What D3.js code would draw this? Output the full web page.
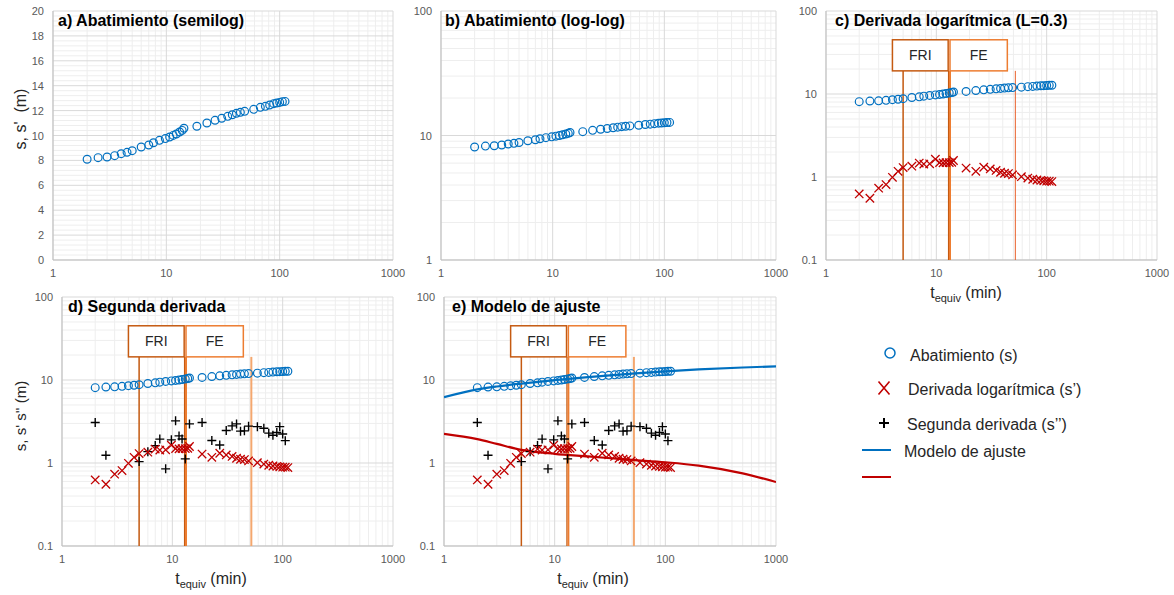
<!DOCTYPE html>
<html>
<head>
<meta charset="utf-8">
<script src="https://cdn.jsdelivr.net/npm/d3@7/dist/d3.min.js"></script>
<style>
  html, body { margin: 0; padding: 0; background: #fff; }
  svg { display: block; font-family: "Liberation Sans", Arial, sans-serif; }
</style>
</head>
<body>
<svg id="chart" width="1174" height="595"></svg>
<script>
// Equivalent time (min)
const tEquiv = [2, 2.5, 3, 3.5, 4, 4.5, 5, 6, 7, 7.7, 8.7, 9.8, 10.7, 11.5, 12.25, 13.1, 13.8, 14.3,
  18.6, 22.8, 26.9, 30.8, 34.8, 38.2, 41.5, 45, 49.1, 59, 67.5, 74.8, 81.6, 88.5, 94.1, 100, 105.6, 111.5];
// Drawdown s (m)
const drawdown = [8.09, 8.22, 8.27, 8.38, 8.54, 8.65, 8.78, 9.08, 9.24, 9.42, 9.61, 9.75, 9.88, 10.01, 10.12, 10.28, 10.41, 10.58,
  10.74, 11.0, 11.22, 11.38, 11.54, 11.67, 11.78, 11.86, 11.94, 12.1, 12.26, 12.34, 12.45, 12.56, 12.61, 12.66, 12.72, 12.74];
// Logarithmic derivative s'
const logDeriv = [0.625, 0.555, 0.733, 0.81, 0.99, 1.17, 1.30, 1.35, 1.47, 1.43, 1.44, 1.64, 1.49, 1.48, 1.49, 1.49, 1.50, 1.58,
  1.28, 1.17, 1.31, 1.25, 1.20, 1.14, 1.11, 1.10, 1.06, 1.01, 0.97, 0.94, 0.92, 0.91, 0.90, 0.89, 0.89, 0.88];
// Second derivative s'' (null where not positive / not computed)
const secondDeriv = [3.07, 1.24, null, null, null, null, 1.04, 1.37, 1.62, 1.94, 0.85, 1.90, 3.22, 2.12, 1.95, 1.12, null, 2.96,
  3.07, 1.87, 1.65, 2.46, 2.80, 2.96, 2.42, 2.44, 2.78, 2.74, 2.62, 2.29, 2.16, 2.33, 2.74, 2.24, 1.86, null];

// Fitted model
const modelT = [1, 2, 3, 5, 10, 20, 50, 100, 200, 500, 1000];
const modelS = [6.2, 7.7, 8.35, 9.05, 9.95, 10.85, 11.95, 12.7, 13.4, 14.15, 14.6];
const modelDeriv = [2.24, 1.94, 1.70, 1.44, 1.29, 1.20, 1.09, 1.02, 0.93, 0.75, 0.59];

// Flow regime boxes and limits
const regimes = [
  { label: "FRI", t0: 4, t1: 12.8, color: "#C55A11" },
  { label: "FE", t0: 13.3, t1: 44, color: "#ED7D31" }
];
const boxRange = [19, 45];
const limits = [
  { t: 5, color: "#C55A11", w: 1.5 },
  { t: 12.9, color: "#C55A11", w: 1.2 },
  { t: 13.3, color: "#ED7D31", w: 2 }
];
const lateLimit = 52;

const xTicks = [1, 10, 100, 1000];
const logTicks3 = [0.1, 1, 10, 100];
const logTicks2 = [1, 10, 100];
const linTicks = [0, 2, 4, 6, 8, 10, 12, 14, 16, 18, 20];

const BLUE = "#0070C0", RED = "#C00000";
const svg = d3.select("#chart");

const panels = [
  { id: "a", title: "a) Abatimiento (semilog)", x0: 53, x1: 393, y0: 11, y1: 260, type: "lin", dom: [0, 20], ticks: linTicks,
    series: ["s"], tx: 5 },
  { id: "b", title: "b) Abatimiento (log-log)", x0: 441, x1: 776, y0: 11, y1: 260, type: "log", dom: [1, 100], ticks: logTicks2,
    series: ["s"], tx: 4 },
  { id: "c", title: "c) Derivada logarítmica (L=0.3)", x0: 826, x1: 1157, y0: 11, y1: 260, type: "log", dom: [0.1, 100], ticks: logTicks3,
    series: ["s", "d1"], regimes: true, lateColor: "#E8602A", lateW: 1, xTitle: 966, tx: 9 },
  { id: "d", title: "d) Segunda derivada", x0: 62, x1: 393, y0: 297, y1: 546, type: "log", dom: [0.1, 100], ticks: logTicks3,
    series: ["s", "d1", "d2"], regimes: true, lateColor: "#F4A76E", lateW: 2, xTitle: 211, tx: 6 },
  { id: "e", title: "e) Modelo de ajuste", x0: 444, x1: 776, y0: 297, y1: 546, type: "log", dom: [0.1, 100], ticks: logTicks3,
    series: ["model", "s", "d1", "d2"], regimes: true, lateColor: "#F4A76E", lateW: 2, xTitle: 593, tx: 8 }
];

function minorLog(lo, hi) {
  const out = [];
  for (let p = Math.round(Math.log10(lo)); p < Math.round(Math.log10(hi)); p++) {
    for (let k = 2; k <= 9; k++) out.push(k * Math.pow(10, p));
  }
  return out;
}

const fmt = v => (v < 1 ? String(v) : d3.format("d")(v));

panels.forEach(p => {
  const g = svg.append("g");
  const x = d3.scaleLog().domain([1, 1000]).range([p.x0, p.x1]);
  const y = (p.type === "lin" ? d3.scaleLinear() : d3.scaleLog()).domain(p.dom).range([p.y1, p.y0]);

  const clipId = "clip-" + p.id;
  g.append("clipPath").attr("id", clipId).append("rect")
    .attr("x", p.x0).attr("y", p.y0).attr("width", p.x1 - p.x0).attr("height", p.y1 - p.y0);

  // minor grid
  const xMinor = minorLog(1, 1000);
  const yMinor = p.type === "lin" ? d3.range(0, 20, 0.4).filter(v => Math.abs(v / 2 - Math.round(v / 2)) > 1e-6) : minorLog(p.dom[0], p.dom[1]);
  g.selectAll(null).data(xMinor).join("line")
    .attr("x1", d => x(d)).attr("x2", d => x(d)).attr("y1", p.y0).attr("y2", p.y1)
    .attr("stroke", "#EEEEEE").attr("stroke-width", 1);
  g.selectAll(null).data(yMinor).join("line")
    .attr("y1", d => y(d)).attr("y2", d => y(d)).attr("x1", p.x0).attr("x2", p.x1)
    .attr("stroke", "#EEEEEE").attr("stroke-width", 1);
  // major grid
  g.selectAll(null).data(xTicks).join("line")
    .attr("x1", d => x(d)).attr("x2", d => x(d)).attr("y1", p.y0).attr("y2", p.y1)
    .attr("stroke", "#D9D9D9").attr("stroke-width", 1);
  g.selectAll(null).data(p.ticks).join("line")
    .attr("y1", d => y(d)).attr("y2", d => y(d)).attr("x1", p.x0).attr("x2", p.x1)
    .attr("stroke", "#D9D9D9").attr("stroke-width", 1);
  // axis lines
  g.append("line").attr("x1", p.x0).attr("x2", p.x0).attr("y1", p.y0).attr("y2", p.y1).attr("stroke", "#BFBFBF");
  g.append("line").attr("x1", p.x0).attr("x2", p.x1).attr("y1", p.y1).attr("y2", p.y1).attr("stroke", "#BFBFBF");

  // tick labels
  g.selectAll(null).data(xTicks).join("text")
    .attr("x", d => x(d)).attr("y", p.y1 + 17).attr("text-anchor", "middle")
    .attr("font-size", 11).attr("fill", "#595959").text(d => d);
  g.selectAll(null).data(p.ticks).join("text")
    .attr("x", p.x0 - 9).attr("y", d => y(d) + 4).attr("text-anchor", "end")
    .attr("font-size", 11).attr("fill", "#595959").text(fmt);

  const plot = g.append("g").attr("clip-path", `url(#${clipId})`);

  // regime limit lines
  if (p.regimes) {
    limits.forEach(l => {
      plot.append("line").attr("x1", x(l.t)).attr("x2", x(l.t)).attr("y1", y(boxRange[0])).attr("y2", p.y1)
        .attr("stroke", l.color).attr("stroke-width", l.w);
    });
    plot.append("line").attr("x1", x(lateLimit)).attr("x2", x(lateLimit)).attr("y1", y(boxRange[0])).attr("y2", p.y1)
      .attr("stroke", p.lateColor).attr("stroke-width", p.lateW);
  }

  // model curves
  if (p.series.includes("model")) {
    const line = d3.line().curve(d3.curveMonotoneX).x(d => x(d[0])).y(d => y(d[1]));
    plot.append("path").datum(d3.zip(modelT, modelS)).attr("d", line)
      .attr("fill", "none").attr("stroke", BLUE).attr("stroke-width", 2.2);
    plot.append("path").datum(d3.zip(modelT, modelDeriv)).attr("d", line)
      .attr("fill", "none").attr("stroke", RED).attr("stroke-width", 2.2);
  }

  if (p.series.includes("d2")) {
    const pts = d3.zip(tEquiv, secondDeriv).filter(d => d[1] != null);
    plot.selectAll(null).data(pts).join("path")
      .attr("transform", d => `translate(${x(d[0])},${y(d[1])})`)
      .attr("d", "M-4.5,0H4.5M0,-4.5V4.5").attr("stroke", "#000").attr("stroke-width", 1.4);
  }
  if (p.series.includes("d1")) {
    const pts = d3.zip(tEquiv, logDeriv);
    plot.selectAll(null).data(pts).join("path")
      .attr("transform", d => `translate(${x(d[0])},${y(d[1])})`)
      .attr("d", "M-4.2,-4.2L4.2,4.2M-4.2,4.2L4.2,-4.2").attr("stroke", RED).attr("stroke-width", 1.3);
  }
  if (p.series.includes("s")) {
    const pts = d3.zip(tEquiv, drawdown);
    plot.selectAll(null).data(pts).join("circle")
      .attr("cx", d => x(d[0])).attr("cy", d => y(d[1])).attr("r", 3.9)
      .attr("fill", "none").attr("stroke", BLUE).attr("stroke-width", 1.2);
  }

  // regime boxes
  if (p.regimes) {
    regimes.forEach(r => {
      g.append("rect").attr("x", x(r.t0)).attr("y", y(boxRange[1]))
        .attr("width", x(r.t1) - x(r.t0)).attr("height", y(boxRange[0]) - y(boxRange[1]))
        .attr("fill", "#fff").attr("stroke", r.color).attr("stroke-width", 1.5);
      g.append("text").attr("x", (x(r.t0) + x(r.t1)) / 2).attr("y", (y(boxRange[0]) + y(boxRange[1])) / 2 + 5)
        .attr("text-anchor", "middle").attr("font-size", 14).attr("fill", "#262626").text(r.label);
    });
  }

  // panel title
  g.append("text").attr("x", p.x0 + p.tx).attr("y", p.y0 + 15).attr("font-size", 16).attr("font-weight", "bold")
    .attr("fill", "#000").text(p.title);

  // x axis title
  if (p.xTitle) {
    const tt = g.append("text").attr("x", p.xTitle).attr("y", p.y1 + 38).attr("text-anchor", "middle")
      .attr("font-size", 16).attr("fill", "#262626");
    tt.append("tspan").text("t");
    tt.append("tspan").attr("font-size", 11).attr("dy", 4).text("equiv");
    tt.append("tspan").attr("dy", -4).text(" (min)");
  }
});

// y axis titles
svg.append("text").attr("transform", "translate(26,119) rotate(-90)").attr("text-anchor", "middle")
  .attr("font-size", 16).attr("fill", "#262626").style("white-space", "pre").text("s, s'  (m)");
svg.append("text").attr("transform", "translate(26,416) rotate(-90)").attr("text-anchor", "middle")
  .attr("font-size", 15).attr("fill", "#262626").text("s, s' s'' (m)");

// legend
const lg = svg.append("g").attr("font-size", 16).attr("fill", "#262626");
lg.append("circle").attr("cx", 890).attr("cy", 353).attr("r", 5).attr("fill", "none").attr("stroke", BLUE).attr("stroke-width", 1.5);
lg.append("text").attr("x", 910).attr("y", 361).text("Abatimiento (s)");
lg.append("path").attr("transform", "translate(884,388)").attr("d", "M-5.5,-6.5L5.5,6.5M-5.5,6.5L5.5,-6.5")
  .attr("stroke", RED).attr("stroke-width", 1.6);
lg.append("text").attr("x", 908).attr("y", 395).text("Derivada logarítmica (s\u2019)");
lg.append("path").attr("transform", "translate(884,423)").attr("d", "M-5,0H5M0,-5V5")
  .attr("stroke", "#000").attr("stroke-width", 2);
lg.append("text").attr("x", 907).attr("y", 430).text("Segunda derivada (s\u2019\u2019)");
lg.append("line").attr("x1", 862).attr("x2", 891).attr("y1", 450).attr("y2", 450).attr("stroke", BLUE).attr("stroke-width", 2);
lg.append("text").attr("x", 904).attr("y", 457).text("Modelo de ajuste");
lg.append("line").attr("x1", 862).attr("x2", 891).attr("y1", 477).attr("y2", 477).attr("stroke", RED).attr("stroke-width", 2);
</script>
</body>
</html>
